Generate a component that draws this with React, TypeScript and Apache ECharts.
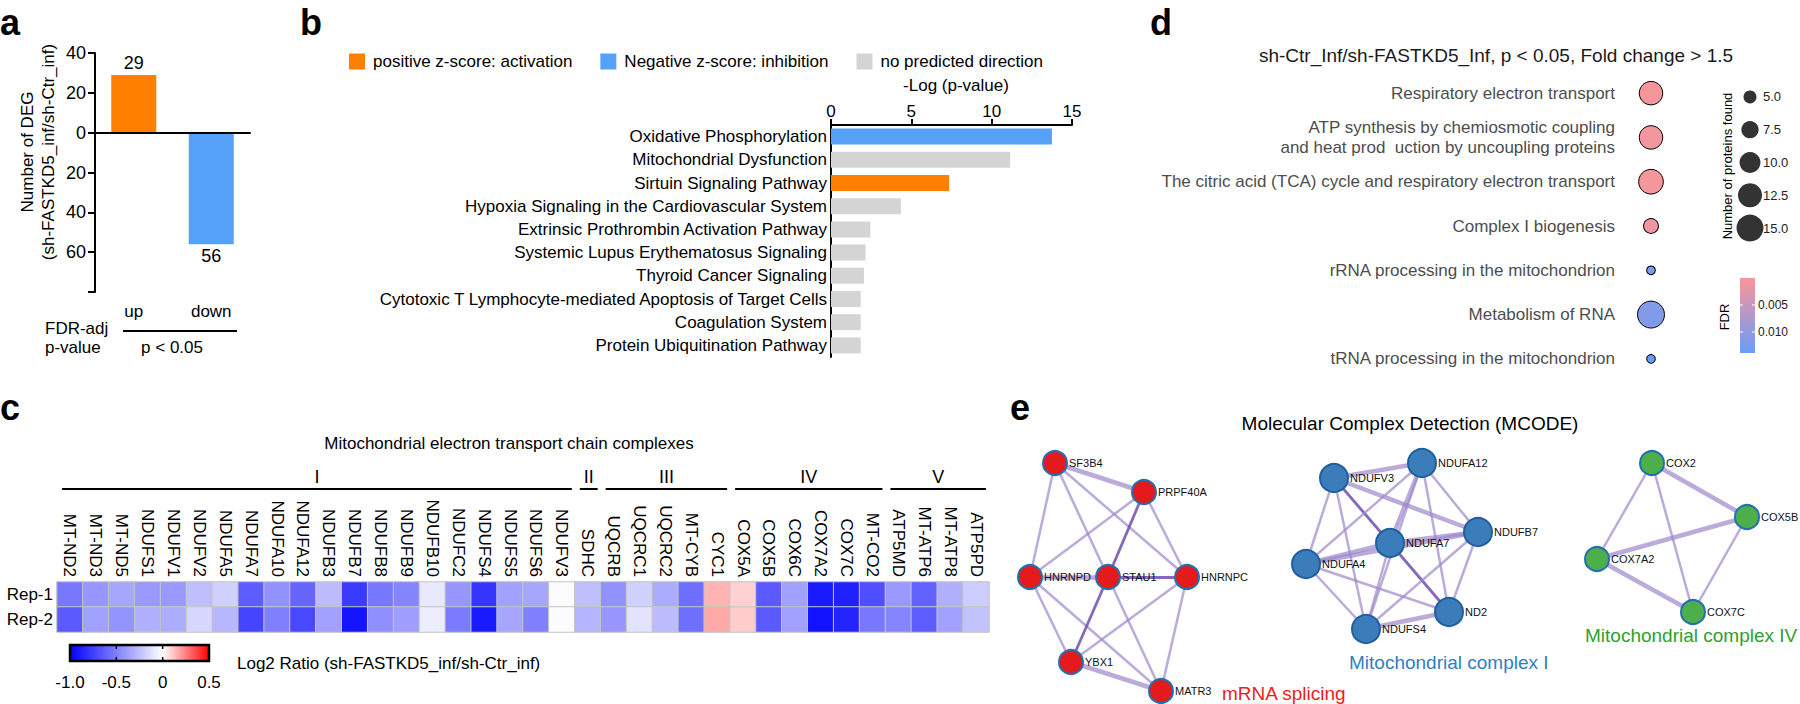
import React, { useEffect, useRef } from "react";
import * as echarts from "echarts";

const FONT = "'Liberation Sans', Arial, Helvetica, sans-serif";

// ---------- Panel a ----------
const degCategories = ["up", "down"];
const degCounts = [29, -56];
const degColors = ["#FF8000", "#55A0F8"];

// ---------- Panel b ----------
const pathwayNames = [
  "Oxidative Phosphorylation",
  "Mitochondrial Dysfunction",
  "Sirtuin Signaling Pathway",
  "Hypoxia Signaling in the Cardiovascular System",
  "Extrinsic Prothrombin Activation Pathway",
  "Systemic Lupus Erythematosus Signaling",
  "Thyroid Cancer Signaling",
  "Cytotoxic T Lymphocyte-mediated Apoptosis of Target Cells",
  "Coagulation System",
  "Protein Ubiquitination Pathway",
];
const pathwayLogP = [13.75, 11.15, 7.35, 4.35, 2.45, 2.15, 2.05, 1.85, 1.85, 1.85];
const pathwayDirection = ["negative", "none", "positive", "none", "none", "none", "none", "none", "none", "none"];
const directionKeys = ["positive", "negative", "none"];
const directionNames = ["positive z-score: activation", "Negative z-score: inhibition", "no predicted direction"];
const directionColors = ["#FF8000", "#55A0F8", "#D4D4D4"];

// ---------- Panel c ----------
const etcGenes = [
  "MT-ND2", "MT-ND3", "MT-ND5", "NDUFS1", "NDUFV1", "NDUFV2", "NDUFA5", "NDUFA7", "NDUFA10", "NDUFA12",
  "NDUFB3", "NDUFB7", "NDUFB8", "NDUFB9", "NDUFB10", "NDUFC2", "NDUFS4", "NDUFS5", "NDUFS6", "NDUFV3",
  "SDHC", "UQCRB", "UQCRC1", "UQCRC2", "MT-CYB", "CYC1", "COX5A", "COX5B", "COX6C", "COX7A2",
  "COX7C", "MT-CO2", "ATP5MD", "MT-ATP6", "MT-ATP8", "ATP5PD",
];
const etcGroupLabels = ["I", "II", "III", "IV", "V"];
const etcGroupSizes = [20, 1, 5, 6, 4];
const repLabels = ["Rep-1", "Rep-2"];
const rep1Log2 = [
  -0.53, -0.41, -0.35, -0.4, -0.4, -0.25, -0.18, -0.64, -0.43, -0.6,
  -0.26, -0.77, -0.53, -0.48, -0.09, -0.41, -0.79, -0.37, -0.35, -0.01,
  -0.25, -0.43, -0.18, -0.33, -0.57, 0.15, 0.09, -0.65, -0.37, -0.9,
  -0.87, -0.69, -0.4, -0.62, -0.31, -0.2,
];
const rep2Log2 = [
  -0.65, -0.37, -0.42, -0.31, -0.32, -0.16, -0.28, -0.73, -0.5, -0.72,
  -0.37, -0.92, -0.44, -0.38, -0.07, -0.52, -0.9, -0.35, -0.5, -0.01,
  -0.29, -0.41, -0.11, -0.26, -0.57, 0.17, 0.1, -0.65, -0.37, -0.93,
  -0.86, -0.53, -0.48, -0.64, -0.37, -0.24,
];
const log2Min = -1.0;
const log2Max = 0.5;
const log2Ticks = [-1.0, -0.5, 0, 0.5];
const log2TickLabels = ["-1.0", "-0.5", "0", "0.5"];

// ---------- Panel d ----------
const reactomeTerms = [
  "Respiratory electron transport",
  "ATP synthesis by chemiosmotic coupling\nand heat prod  uction by uncoupling proteins",
  "The citric acid (TCA) cycle and respiratory electron transport",
  "Complex I biogenesis",
  "rRNA processing in the mitochondrion",
  "Metabolism of RNA",
  "tRNA processing in the mitochondrion",
];
const proteinsFound = [12, 12, 13, 6, 3, 15, 3];
const termFdr = [0.0003, 0.0004, 0.0003, 0.0008, 0.0118, 0.0116, 0.0139];
const sizeLegendValues = [5, 7.5, 10, 12.5, 15];
const fdrMin = 0;
const fdrMax = 0.0139;
const fdrTicks = [0.005, 0.01];
const fdrTickLabels = ["0.005", "0.010"];

// ---------- Panel e (MCODE network layout) ----------
const nodeNames = [
  "SF3B4", "PRPF40A", "HNRNPD", "STAU1", "HNRNPC", "YBX1", "MATR3",
  "NDUFV3", "NDUFA12", "NDUFB7", "NDUFA7", "NDUFA4", "ND2", "NDUFS4",
  "COX2", "COX5B", "COX7A2", "COX7C",
];
const nodeX = [55, 144, 30, 108, 187, 71, 161, 334, 422, 478, 390, 306, 449, 366, 652, 747, 597, 693];
const nodeY = [83, 112, 197, 197, 197, 282, 311, 98, 83, 152, 163, 184, 232, 249, 83, 137, 179, 232];
const nodeCluster = [0, 0, 0, 0, 0, 0, 0, 1, 1, 1, 1, 1, 1, 1, 2, 2, 2, 2];
const clusterNames = ["mRNA splicing", "Mitochondrial complex I", "Mitochondrial complex IV"];
const clusterColors = ["#E41A1C", "#3A7DBA", "#4DAF4A"];
const clusterTextColors = ["#EE1C24", "#2F7EC6", "#2EA12E"];
const clusterNodeSizes = [24, 28, 24];
// [source, target, style] style: 0 thin, 1 thick, 2 dark
const mcodeEdges: [string, string, number][] = [
  ["SF3B4", "PRPF40A", 1], ["SF3B4", "HNRNPD", 0], ["SF3B4", "STAU1", 0], ["SF3B4", "HNRNPC", 0],
  ["PRPF40A", "HNRNPD", 0], ["PRPF40A", "STAU1", 2], ["PRPF40A", "HNRNPC", 0], ["HNRNPD", "STAU1", 1],
  ["STAU1", "HNRNPC", 2], ["HNRNPD", "YBX1", 0], ["HNRNPD", "MATR3", 0], ["STAU1", "YBX1", 2],
  ["STAU1", "MATR3", 0], ["HNRNPC", "YBX1", 0], ["HNRNPC", "MATR3", 0], ["YBX1", "MATR3", 1],
  ["NDUFV3", "NDUFA12", 1], ["NDUFV3", "NDUFA7", 2], ["NDUFV3", "NDUFB7", 1], ["NDUFV3", "NDUFA4", 0],
  ["NDUFV3", "NDUFS4", 0], ["NDUFA12", "NDUFA7", 1], ["NDUFA12", "NDUFB7", 0], ["NDUFA12", "ND2", 0],
  ["NDUFA12", "NDUFA4", 0], ["NDUFA12", "NDUFS4", 0], ["NDUFA7", "NDUFB7", 1], ["NDUFA7", "ND2", 2],
  ["NDUFA7", "NDUFA4", 1], ["NDUFA7", "NDUFS4", 0], ["NDUFA4", "NDUFB7", 1], ["NDUFA4", "ND2", 0],
  ["NDUFA4", "NDUFS4", 0], ["NDUFS4", "ND2", 1], ["NDUFS4", "NDUFB7", 0], ["ND2", "NDUFB7", 0],
  ["COX2", "COX5B", 1], ["COX2", "COX7A2", 0], ["COX2", "COX7C", 0], ["COX5B", "COX7A2", 1],
  ["COX5B", "COX7C", 0], ["COX7A2", "COX7C", 1],
];
const edgeStyles = [
  { color: "#9C88CC", width: 2.5, opacity: 0.7 },
  { color: "#9C88CC", width: 4.5, opacity: 0.7 },
  { color: "#6E4FAE", width: 2.8, opacity: 0.85 },
];

// ---------- layout constants ----------
const C_LEFT = 57;
const C_WIDTH = 932;
const C_TOP = 582;
const C_HEIGHT = 50;
const CB_LEFT = 70;
const CB_TOP = 645;
const CB_W = 139;
const CB_H = 16;
const FDR_LEFT = 1740;
const FDR_TOP = 278;
const FDR_W = 15;
const FDR_H = 75;

const sizeFor = (v: number) =>
  13 + (14 * (Math.sqrt(v) - Math.sqrt(5))) / (Math.sqrt(15) - Math.sqrt(5));

function txt(text: string, x: number, y: number, o: any = {}) {
  return {
    type: "text",
    x,
    y,
    rotation: o.rotation || 0,
    silent: true,
    style: {
      text,
      fill: o.fill || "#000",
      fontSize: o.fontSize || 17,
      fontWeight: o.fontWeight || "normal",
      fontFamily: o.fontFamily || FONT,
      textAlign: o.align || "left",
      align: o.align || "left",
      textVerticalAlign: o.vAlign || "middle",
      verticalAlign: o.vAlign || "middle",
    },
  };
}
function ln(x1: number, y1: number, x2: number, y2: number, w = 2, color = "#000") {
  return { type: "line", silent: true, shape: { x1, y1, x2, y2 }, style: { stroke: color, lineWidth: w } };
}

export default function App() {
  const ref = useRef<HTMLDivElement>(null);
  useEffect(() => {
    if (!ref.current) return;
    const chart = echarts.init(ref.current, undefined, { renderer: "svg" });

    const graphic: any[] = [];
    // panel letters
    const letters: [string, number, number][] = [
      ["a", 0, 22], ["b", 300, 22], ["c", 0, 407], ["d", 1150, 22], ["e", 1010, 407],
    ];
    letters.forEach(([t, x, y]) => graphic.push(txt(t, x, y, { fontSize: 36, fontWeight: "bold" })));

    // panel a extras
    graphic.push(txt("Number of DEG", 27, 152, { rotation: Math.PI / 2, align: "center" }));
    graphic.push(txt("(sh-FASTKD5_inf/sh-Ctr_inf)", 48, 152, { rotation: Math.PI / 2, align: "center" }));
    graphic.push(txt("FDR-adj", 45, 328));
    graphic.push(txt("p-value", 45, 347));
    graphic.push(ln(123, 331, 237, 331));
    graphic.push(txt("p < 0.05", 172, 347, { align: "center" }));

    // panel b axis title
    graphic.push(txt("-Log (p-value)", 956, 85, { align: "center" }));

    // panel c extras
    const cellW = C_WIDTH / etcGenes.length;
    graphic.push(txt("Mitochondrial electron transport chain complexes", 509, 443, { align: "center", fontSize: 17 }));
    let start = 0;
    etcGroupSizes.forEach((n, i) => {
      const x1 = C_LEFT + start * cellW + 5;
      const x2 = C_LEFT + (start + n) * cellW - 3;
      graphic.push(ln(x1, 489, x2, 489, 2));
      graphic.push(txt(etcGroupLabels[i], (x1 + x2) / 2, 477, { align: "center", fontSize: 18 }));
      start += n;
    });
    const cbX = (v: number) => CB_LEFT + ((v - log2Min) / (log2Max - log2Min)) * CB_W;
    graphic.push({
      type: "rect",
      silent: true,
      shape: { x: CB_LEFT, y: CB_TOP, width: CB_W, height: CB_H },
      style: {
        fill: new echarts.graphic.LinearGradient(0, 0, 1, 0, [
          { offset: 0, color: "#0000FF" },
          { offset: (0 - log2Min) / (log2Max - log2Min), color: "#FFFFFF" },
          { offset: 1, color: "#FF0000" },
        ]),
        stroke: "#000",
        lineWidth: 2.5,
      },
    });
    log2Ticks.forEach((v, i) => {
      const x = cbX(v);
      if (v > log2Min && v < log2Max) {
        graphic.push(ln(x, CB_TOP, x, CB_TOP + 4, 1.5));
        graphic.push(ln(x, CB_TOP + CB_H - 4, x, CB_TOP + CB_H, 1.5));
      }
      graphic.push(txt(log2TickLabels[i], x, 682, { align: "center" }));
    });
    graphic.push(txt("Log2 Ratio (sh-FASTKD5_inf/sh-Ctr_inf)", 237, 663));

    // panel d extras
    graphic.push(
      txt("sh-Ctr_Inf/sh-FASTKD5_Inf, p < 0.05, Fold change > 1.5", 1496, 55, {
        align: "center",
        fontSize: 19,
        fill: "#1a1a1a",
      })
    );
    graphic.push(txt("Number of proteins found", 1727, 166, { rotation: Math.PI / 2, align: "center", fontSize: 13 }));
    graphic.push(txt("FDR", 1724, 317, { rotation: Math.PI / 2, align: "center", fontSize: 13 }));
    graphic.push({
      type: "rect",
      silent: true,
      shape: { x: FDR_LEFT, y: FDR_TOP, width: FDR_W, height: FDR_H },
      style: {
        fill: new echarts.graphic.LinearGradient(0, 0, 0, 1, [
          { offset: 0, color: "#F8969B" },
          { offset: 1, color: "#6A9CF8" },
        ]),
      },
    });
    fdrTicks.forEach((v, i) => {
      const y = FDR_TOP + ((v - fdrMin) / (fdrMax - fdrMin)) * FDR_H;
      graphic.push(ln(FDR_LEFT, y, FDR_LEFT + 3, y, 1, "#fff"));
      graphic.push(ln(FDR_LEFT + FDR_W - 3, y, FDR_LEFT + FDR_W, y, 1, "#fff"));
      graphic.push(txt(fdrTickLabels[i], FDR_LEFT + FDR_W + 3, y, { fontSize: 12, fill: "#222" }));
    });

    // panel e extras
    graphic.push(txt("Molecular Complex Detection (MCODE)", 1410, 423, { align: "center", fontSize: 19 }));
    const clusterLabelPos: [number, number][] = [[1222, 693], [1349, 662], [1585, 635]];
    clusterNames.forEach((n, i) =>
      graphic.push(
        txt(n, clusterLabelPos[i][0], clusterLabelPos[i][1], {
          fontSize: 19,
          fill: clusterTextColors[i],
        })
      )
    );

    const axisBlack = { lineStyle: { color: "#000", width: 2 } };

    const option: any = {
      animation: false,
      backgroundColor: "#fff",
      textStyle: { fontFamily: FONT },
      legend: {
        data: directionNames,
        left: 344,
        top: 48,
        itemWidth: 16,
        itemHeight: 16,
        itemGap: 28,
        icon: "rect",
        selectedMode: false,
        textStyle: { fontSize: 17, color: "#000", fontFamily: FONT, padding: [0, 0, 0, 3] },
      },
      grid: [
        { left: 95, top: 53, width: 155, height: 239 },
        { left: 831, top: 125, width: 241, height: 232 },
        { left: C_LEFT, top: C_TOP, width: C_WIDTH, height: C_HEIGHT },
        { left: 1631, top: 71, width: 40, height: 310 },
        { left: 1740, top: 80.5, width: 20, height: 164 },
        { left: 1000, top: 380, width: 800, height: 324 },
      ],
      xAxis: [
        {
          gridIndex: 0,
          type: "category",
          data: degCategories,
          axisLine: axisBlack,
          axisTick: { alignWithLabel: true, length: 8, lineStyle: { color: "#000", width: 2 } },
          axisLabel: { fontSize: 17, color: "#000", margin: 11 },
        },
        {
          gridIndex: 1,
          type: "value",
          position: "top",
          min: 0,
          max: 15,
          interval: 5,
          axisLine: { show: true, ...axisBlack },
          axisTick: { show: true, length: 6, lineStyle: { color: "#000", width: 2 } },
          axisLabel: { fontSize: 17, color: "#000", margin: 5 },
          splitLine: { show: false },
        },
        {
          gridIndex: 2,
          type: "category",
          data: etcGenes,
          position: "top",
          axisLine: { show: false },
          axisTick: { show: false },
          axisLabel: { rotate: 90, fontSize: 17, color: "#000", margin: 5, interval: 0 },
        },
        { gridIndex: 3, type: "value", min: -1, max: 1, show: false },
        { gridIndex: 4, type: "value", min: -1, max: 1, show: false },
        { gridIndex: 5, type: "value", min: 0, max: 800, show: false },
      ],
      yAxis: [
        {
          gridIndex: 0,
          type: "value",
          min: -80,
          max: 40,
          interval: 20,
          axisLine: { show: true, ...axisBlack },
          axisTick: { show: true, length: 7, lineStyle: { color: "#000", width: 2 } },
          axisLabel: {
            fontSize: 18,
            color: "#000",
            margin: 9,
            formatter: (v: number) => (v === -80 ? "" : String(Math.abs(v))),
          },
          splitLine: { show: false },
        },
        {
          gridIndex: 1,
          type: "category",
          data: pathwayNames,
          inverse: true,
          axisLine: axisBlack,
          axisTick: { show: false },
          axisLabel: { fontSize: 17, color: "#000", margin: 4 },
        },
        {
          gridIndex: 2,
          type: "category",
          data: repLabels,
          inverse: true,
          axisLine: { show: false },
          axisTick: { show: false },
          axisLabel: { fontSize: 17, color: "#000", margin: 4 },
        },
        {
          gridIndex: 3,
          type: "category",
          data: reactomeTerms,
          inverse: true,
          axisLine: { show: false },
          axisTick: { show: false },
          axisLabel: {
            fontSize: 17,
            color: "#4D4D4D",
            margin: 16,
            lineHeight: 20,
            align: "right",
          },
        },
        {
          gridIndex: 4,
          type: "category",
          data: sizeLegendValues.map((v) => v.toFixed(1)),
          inverse: true,
          position: "right",
          axisLine: { show: false },
          axisTick: { show: false },
          axisLabel: { fontSize: 13, color: "#222", margin: 3 },
        },
        { gridIndex: 5, type: "value", min: 0, max: 324, inverse: true, show: false },
      ],
      visualMap: [
        {
          type: "continuous",
          show: false,
          seriesIndex: 4,
          dimension: 2,
          min: log2Min,
          max: log2Max,
          inRange: {
            color: ["#0000FF", "#4040FF", "#8080FF", "#BFBFFF", "#FFFFFF", "#FF8080", "#FF0000"],
          },
        },
        {
          type: "continuous",
          show: false,
          seriesIndex: 5,
          dimension: 3,
          min: fdrMin,
          max: fdrMax,
          inRange: { color: ["#F8969B", "#6A9CF8"] },
        },
      ],
      series: [
        {
          type: "bar",
          xAxisIndex: 0,
          yAxisIndex: 0,
          barWidth: 45,
          data: degCounts.map((v, i) => ({
            value: v,
            itemStyle: { color: degColors[i] },
            label: { position: v >= 0 ? "top" : "bottom" },
          })),
          label: {
            show: true,
            fontSize: 18,
            color: "#000",
            distance: 3,
            formatter: (p: any) => String(Math.abs(p.value)),
          },
          markLine: {
            silent: true,
            symbol: ["none", "none"],
            label: { show: false },
            lineStyle: { color: "#000", width: 2, type: "solid" },
            data: [{ yAxis: 0 }],
          },
        },
        ...directionKeys.map((k, di) => ({
          type: "bar",
          name: directionNames[di],
          xAxisIndex: 1,
          yAxisIndex: 1,
          stack: "paths",
          barWidth: 16,
          itemStyle: { color: directionColors[di] },
          data: pathwayLogP.map((v, i) => (pathwayDirection[i] === k ? v : "-")),
        })),
        {
          type: "heatmap",
          xAxisIndex: 2,
          yAxisIndex: 2,
          itemStyle: { borderColor: "#C4C4C4", borderWidth: 1 },
          data: [
            ...rep1Log2.map((v, i) => [i, 0, v]),
            ...rep2Log2.map((v, i) => [i, 1, v]),
          ],
        },
        {
          type: "scatter",
          xAxisIndex: 3,
          yAxisIndex: 3,
          data: reactomeTerms.map((_, i) => [0, i, proteinsFound[i], termFdr[i]]),
          symbolSize: (val: number[]) => sizeFor(val[2]),
          itemStyle: { borderColor: "#000", borderWidth: 1, opacity: 1 },
        },
        {
          type: "scatter",
          xAxisIndex: 4,
          yAxisIndex: 4,
          data: sizeLegendValues.map((v, i) => [0, i, v]),
          symbolSize: (val: number[]) => sizeFor(val[2]),
          itemStyle: { color: "#000" },
        },
        {
          type: "graph",
          coordinateSystem: "cartesian2d",
          xAxisIndex: 5,
          yAxisIndex: 5,
          layout: "none",
          roam: false,
          z: 3,
          data: nodeNames.map((n, i) => ({
            name: n,
            value: [nodeX[i], nodeY[i]],
            symbolSize: clusterNodeSizes[nodeCluster[i]],
            itemStyle: {
              color: clusterColors[nodeCluster[i]],
              borderColor: nodeCluster[i] === 1 ? "#1F5F9E" : "#2270B0",
              borderWidth: 2,
            },
          })),
          links: mcodeEdges.map(([s, t, k]) => ({
            source: s,
            target: t,
            lineStyle: { color: edgeStyles[k].color, width: edgeStyles[k].width, opacity: edgeStyles[k].opacity },
          })),
          label: {
            show: true,
            position: "right",
            distance: 1,
            fontSize: 11,
            color: "#111",
            formatter: "{b}",
          },
          lineStyle: { curveness: 0 },
          emphasis: { disabled: true },
        },
      ],
      graphic,
    };

    chart.setOption(option);
    return () => chart.dispose();
  }, []);

  return (
    <div
      ref={ref}
      style={{ position: "fixed", left: 0, top: 0, width: 1800, height: 704, background: "#fff" }}
    />
  );
}
